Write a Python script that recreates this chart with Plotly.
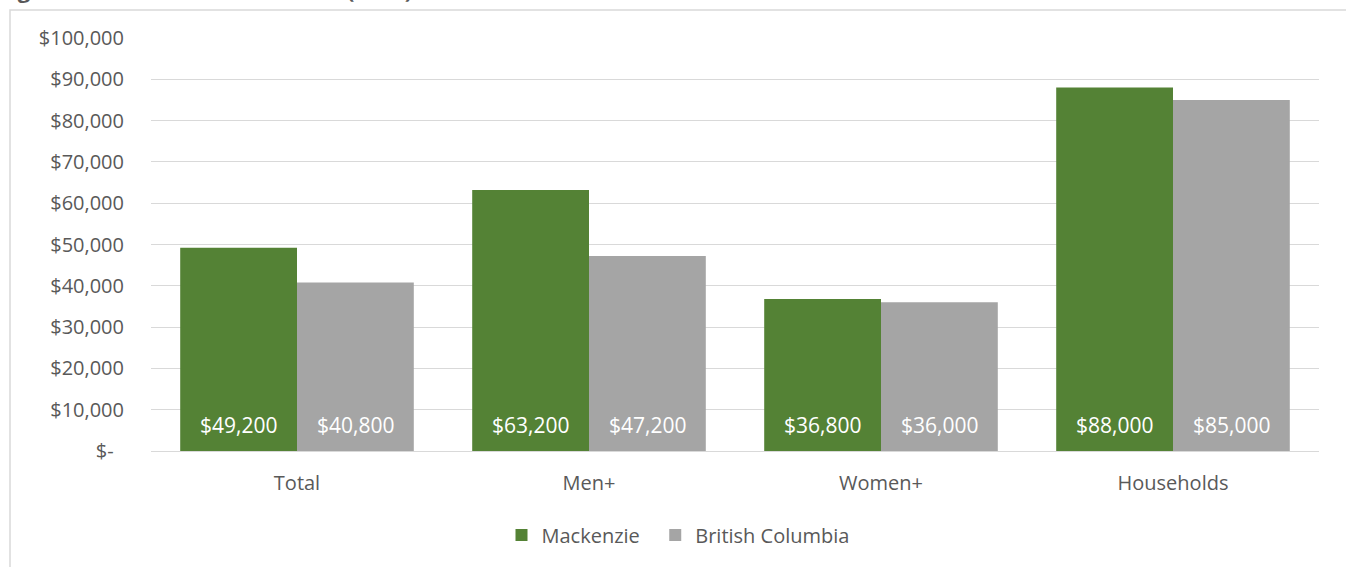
import plotly.graph_objects as go

categories = ["Total", "Men+", "Women+", "Households"]
mackenzie = [49200, 63200, 36800, 88000]
bc = [40800, 47200, 36000, 85000]
series_names = ["Mackenzie", "British Columbia"]
tick_vals = [0, 10000, 20000, 30000, 40000, 50000, 60000, 70000, 80000, 90000, 100000]
tick_text = ["$-\u00a0\u00a0"] + ["${:,}".format(v) for v in tick_vals[1:]]
title_text = "Figure 11: Median Total Income (2021)"

W, H = 1346, 567
L, R, T, B = 151, 27, 38, 116
pw, ph = W - L - R, H - T - B
BARGAP = 0.2

def px_x(p):
    return (p - L) / pw

def px_y(p):
    return (H - B - p) / ph

FONT = "Open Sans"
TXT = "#595959"

def fmt(v):
    return "${:,}".format(v)

fig = go.Figure()
fig.add_trace(go.Bar(
    x=categories, y=mackenzie, name=series_names[0] + "\u00a0\u00a0",
    marker=dict(color="#548235", line=dict(width=0)),
))
fig.add_trace(go.Bar(
    x=categories, y=bc, name=series_names[1],
    marker=dict(color="#A5A5A5", line=dict(width=0)),
))

# data labels at the base of each bar
cat_w = pw / len(categories)
bar_w = cat_w * (1 - BARGAP) / 2
annotations = []
for vals, sign in ((mackenzie, -1), (bc, 1)):
    for c, v in zip(categories, vals):
        annotations.append(dict(
            x=c, y=0, xref="x", yref="y", text=fmt(v), showarrow=False,
            xanchor="center", yanchor="bottom", xshift=sign * bar_w / 2, yshift=10,
            font=dict(color="white", size=21, family=FONT)))

annotations.append(dict(text="<b>" + title_text + "</b>", xref="paper", yref="paper",
                        x=px_x(-3), y=px_y(6), xanchor="left", yanchor="bottom",
                        showarrow=False, font=dict(size=22, color=TXT, family=FONT)))

fig.update_layout(
    width=W, height=H,
    margin=dict(l=L, r=R, t=T, b=B, autoexpand=False),
    paper_bgcolor="white", plot_bgcolor="white",
    barmode="group", bargap=BARGAP, bargroupgap=0,
    font=dict(family=FONT, color=TXT, size=20),
    legend=dict(orientation="h", x=px_x(678), xanchor="center", y=px_y(535), yanchor="middle",
                font=dict(size=20, color=TXT), itemwidth=30, traceorder="normal"),
    xaxis=dict(showgrid=False, showline=False, ticks="", tickfont=dict(size=20, color=TXT),
               ticklabelstandoff=18),
    yaxis=dict(range=[0, 100000], tickvals=tick_vals, ticktext=tick_text,
               showgrid=True, gridcolor="#D9D9D9", gridwidth=1,
               zeroline=True, zerolinecolor="#D9D9D9", zerolinewidth=1,
               showline=False, ticks="", tickfont=dict(size=20, color=TXT),
               ticklabelstandoff=26),
    shapes=[dict(type="rect", xref="paper", yref="paper",
                 x0=px_x(10), x1=px_x(1400), y0=px_y(620), y1=px_y(10),
                 line=dict(color="#D9D9D9", width=1.5), fillcolor="rgba(0,0,0,0)", layer="below")],
    annotations=annotations,
)

fig.write_html("out.html", config={"displayModeBar": False},
               post_script="document.body.style.margin='0';document.body.style.overflow='hidden';")
